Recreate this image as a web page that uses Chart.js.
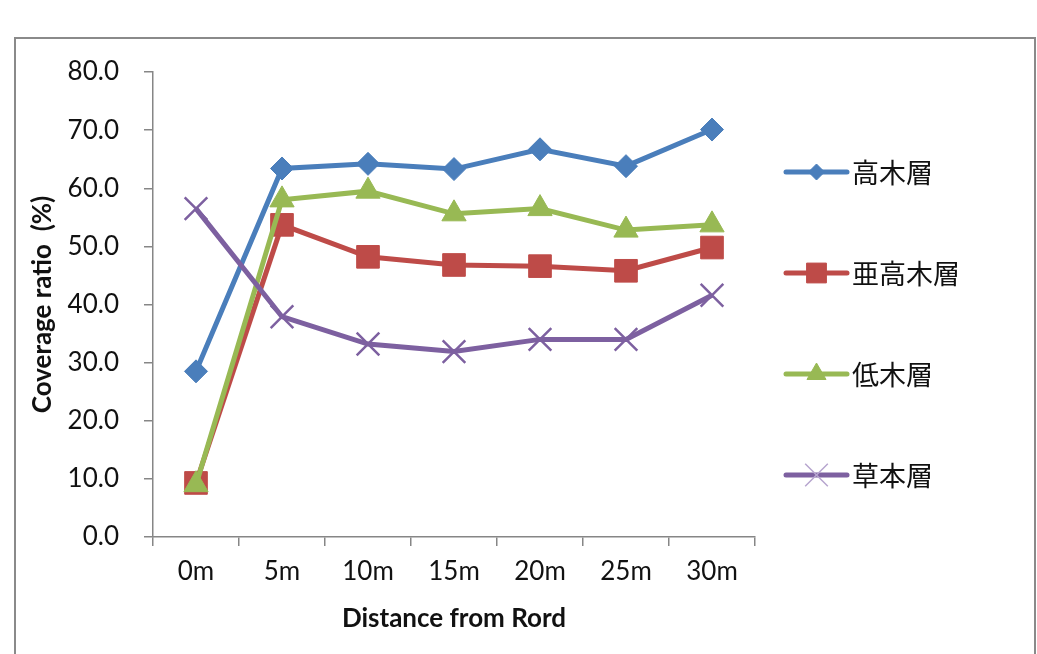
<!DOCTYPE html>
<html>
<head>
<meta charset="utf-8">
<script src="https://cdn.jsdelivr.net/npm/chart.js@4/dist/chart.umd.min.js"></script>
<style>
  html, body { margin: 0; padding: 0; background: #fff; }
  #wrap { width: 1037px; height: 654px; }
</style>
</head>
<body>
<div id="wrap"><canvas id="c" width="1037" height="654"></canvas></div>
<script>
// Distance classes along the transect
const distances = ['0m', '5m', '10m', '15m', '20m', '25m', '30m'];

// Coverage ratio (%) of each vegetation layer
const tallTree   = [28.5, 63.4, 64.2, 63.3, 66.7, 63.8, 70.1]; // 高木層
const subTree    = [9.3, 53.7, 48.2, 46.8, 46.6, 45.8, 49.8];  // 亜高木層
const shrub      = [9.0, 58.0, 59.5, 55.6, 56.5, 52.8, 53.7];  // 低木層
const herb       = [56.5, 37.9, 33.2, 31.9, 34.0, 34.0, 41.6]; // 草本層

const layerNames = ['高木層', '亜高木層', '低木層', '草本層'];
const yTicks = [0, 10, 20, 30, 40, 50, 60, 70, 80];

const AXIS_GRAY = '#868686';
const TICK_FONT = { family: 'Lato, "Open Sans", sans-serif', size: 26 };
const TITLE_FONT = { family: 'Lato, "Open Sans", sans-serif', size: 26, weight: 'bold' };

const series = [
  { data: tallTree, color: '#4A7EBB', style: 'rectRot',  r: 11.5, lr: 8,  bw: 1,   lbw: 1,   point: '#4A7EBB', order: 3 },
  { data: subTree,  color: '#BE4B48', style: 'rect',     r: 16,   lr: 14, bw: 1,   lbw: 1,   point: '#BE4B48', order: 2 },
  { data: shrub,    color: '#98B954', style: 'triangle', r: 14,   lr: 11, bw: 1,   lbw: 1,   point: '#98B954', order: 1 },
  { data: herb,     color: '#7D60A0', style: 'crossRot', r: 16,   lr: 16, bw: 2.5, lbw: 1.5, point: '#7D60A0', order: 0 }
];

// White background and outer frame
const framePlugin = {
  id: 'frame',
  beforeDraw(chart) {
    const ctx = chart.ctx;
    ctx.save();
    ctx.fillStyle = '#fff';
    ctx.fillRect(0, 0, chart.width, chart.height);
    ctx.strokeStyle = '#8a8a8a';
    ctx.lineWidth = 2;
    ctx.strokeRect(15, 38, 1020, 700);
    ctx.restore();
  }
};

// Legend on the right: line sample with marker, then the layer name
const sideLegend = {
  id: 'sideLegend',
  afterDraw(chart) {
    const ctx = chart.ctx;
    const x0 = chart.chartArea.right + 31;
    const x1 = x0 + 61;
    const rows = [172, 273, 374, 475];
    ctx.save();
    series.forEach((s, i) => {
      const y = rows[i];
      ctx.strokeStyle = s.color;
      ctx.lineWidth = 5;
      ctx.lineCap = 'round';
      ctx.beginPath();
      ctx.moveTo(x0, y);
      ctx.lineTo(x1, y);
      ctx.stroke();
      ctx.lineCap = 'butt';
      const isCross = s.style === 'crossRot';
      ctx.fillStyle = s.color;
      ctx.strokeStyle = isCross ? '#B7A5CF' : s.color;
      ctx.lineWidth = s.lbw;
      Chart.helpers.drawPoint(ctx, { pointStyle: s.style, radius: s.lr, borderWidth: s.lbw, rotation: 0 }, (x0 + x1) / 2, y);
      ctx.fillStyle = '#111';
      ctx.font = '27px "Noto Sans CJK JP", sans-serif';
      ctx.textBaseline = 'middle';
      ctx.textAlign = 'left';
      ctx.fillText(layerNames[i], x1 + 5, y + 1);
    });
    ctx.restore();
  }
};

new Chart(document.getElementById('c'), {
  type: 'line',
  data: {
    labels: distances,
    datasets: series.map((s, i) => ({
      label: layerNames[i],
      data: s.data,
      borderColor: s.color,
      backgroundColor: s.color,
      borderWidth: 5,
      tension: 0,
      pointStyle: s.style,
      pointRadius: s.r,
      pointHoverRadius: s.r,
      pointBackgroundColor: s.point,
      pointBorderColor: s.point,
      pointBorderWidth: s.bw,
      order: s.order
    }))
  },
  options: {
    responsive: false,
    animation: false,
    devicePixelRatio: 1,
    layout: { padding: { left: 16, top: 72, right: 282, bottom: 0 } },
    plugins: {
      legend: { display: false },
      tooltip: { enabled: false },
      title: { display: false }
    },
    scales: {
      x: {
        type: 'category',
        offset: true,
        grid: { offset: true, drawOnChartArea: false, drawTicks: true, tickLength: 9, color: AXIS_GRAY, lineWidth: 1.5 },
        border: { color: AXIS_GRAY, width: 1.5 },
        ticks: { color: '#111', font: TICK_FONT, padding: 10, maxRotation: 0, autoSkip: false },
        title: { display: true, text: 'Distance from Rord', color: '#111', font: TITLE_FONT, padding: { top: 0, bottom: 20 } },
        afterFit(scale) { scale.height = 117; }
      },
      y: {
        min: 0,
        max: 80,
        afterBuildTicks(scale) { scale.ticks = yTicks.map(v => ({ value: v })); },
        grid: { drawOnChartArea: false, drawTicks: true, tickLength: 9, color: AXIS_GRAY, lineWidth: 1.5 },
        border: { color: AXIS_GRAY, width: 1.5 },
        ticks: { color: '#111', font: TICK_FONT, padding: 25, callback: v => Number(v).toFixed(1) },
        title: { display: true, text: 'Coverage ratio  (%)', color: '#111', font: TITLE_FONT, padding: { top: 11, bottom: 0 } },
        afterFit(scale) { scale.width = 137; }
      }
    }
  },
  plugins: [framePlugin, sideLegend]
});
</script>
</body>
</html>
